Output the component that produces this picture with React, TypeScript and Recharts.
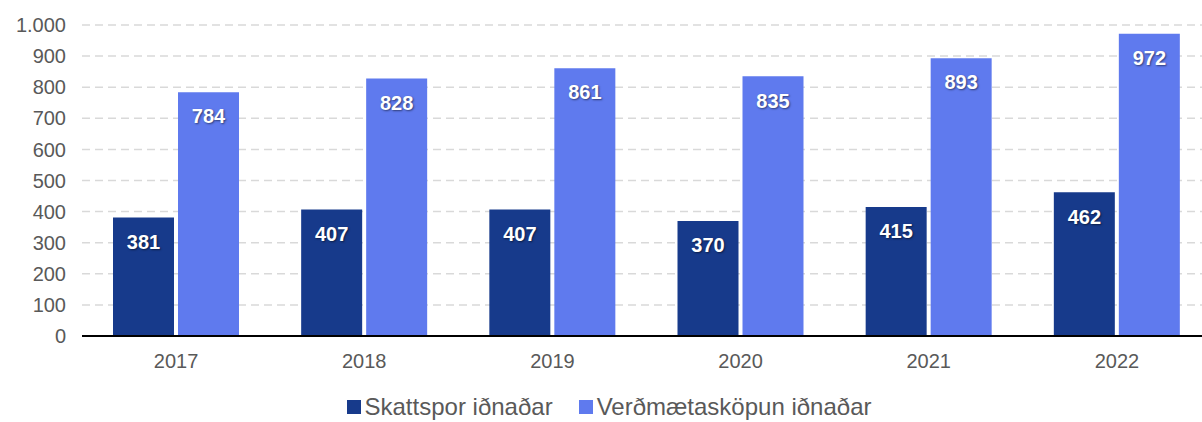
import React from "react";
import { BarChart, Bar, XAxis, YAxis, CartesianGrid, LabelList } from "recharts";

const years = ["2017", "2018", "2019", "2020", "2021", "2022"];
const skattspor = [381, 407, 407, 370, 415, 462];
const verdmaetaskopun = [784, 828, 861, 835, 893, 972];
const yTicks = [0, 100, 200, 300, 400, 500, 600, 700, 800, 900, 1000];

const DARK = "#173A8B";
const LIGHT = "#5F7AEE";
const FONT = "'Liberation Sans', Arial, sans-serif";

const data = years.map((y, i) => ({
    name: y,
    Skattspor: skattspor[i],
    Verdmaeta: verdmaetaskopun[i],
}));

function fmt(n: number) {
    return n.toLocaleString("de-DE");
}

const labelStyle = {
    fill: "#ffffff",
    fontSize: 20,
    fontWeight: 700,
    fontFamily: FONT,
    textShadow: "1px 1px 2px rgba(0,0,0,0.5)",
};

export default function App() {
    return (
        <div style={{ position: "absolute", left: 0, top: 0, width: 1202, height: 422, background: "#fff", overflow: "hidden" }}>
            <BarChart
                width={1202}
                height={422}
                data={data}
                margin={{ top: 25, right: -9, bottom: 0, left: 0 }}
                barCategoryGap={31}
                barGap={4}
                style={{ overflow: "hidden" }}
            >
                <CartesianGrid vertical={false} stroke="#d9d9d9" strokeDasharray="8 5" strokeWidth={1.5} />
                <XAxis
                    dataKey="name"
                    axisLine={{ stroke: "#000", strokeWidth: 2 }}
                    tickLine={false}
                    height={86}
                    tick={{ fontSize: 20, fill: "#595959", fontFamily: FONT, dy: 10 }}
                />
                <YAxis
                    domain={[0, 1000]}
                    ticks={yTicks}
                    interval={0}
                    tickFormatter={fmt}
                    axisLine={false}
                    tickLine={false}
                    width={82}
                    tick={{ fontSize: 20, fill: "#595959", fontFamily: FONT, dx: -8 }}
                />
                <Bar dataKey="Skattspor" fill={DARK} isAnimationActive={false}>
                    <LabelList dataKey="Skattspor" position="insideTop" offset={17} style={labelStyle} />
                </Bar>
                <Bar dataKey="Verdmaeta" fill={LIGHT} isAnimationActive={false}>
                    <LabelList dataKey="Verdmaeta" position="insideTop" offset={17} style={labelStyle} />
                </Bar>
            </BarChart>
            <div
                style={{
                    position: "absolute",
                    top: 394,
                    left: 0,
                    width: 1202,
                    display: "flex",
                    justifyContent: "center",
                    gap: 26,
                    fontFamily: FONT,
                    fontSize: 24,
                    lineHeight: "26px",
                    color: "#595959",
                    paddingLeft: 8,
                }}
            >
                {[
                    { label: "Skattspor iðnaðar", color: DARK },
                    { label: "Verðmætasköpun iðnaðar", color: LIGHT },
                ].map((s) => (
                    <div key={s.label} style={{ display: "flex", alignItems: "center", gap: 4 }}>
                        <div style={{ width: 14, height: 14, background: s.color }} />
                        <span>{s.label}</span>
                    </div>
                ))}
            </div>
        </div>
    );
}
